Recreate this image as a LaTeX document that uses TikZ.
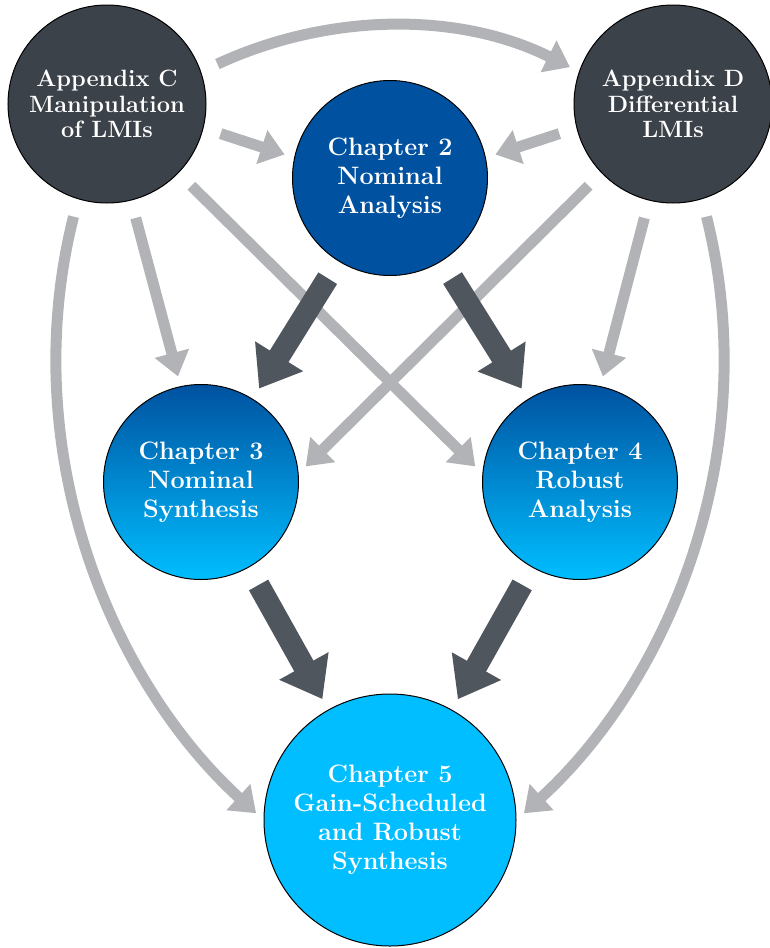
\documentclass[tikz,border=0pt]{standalone}
\usetikzlibrary{arrows.meta}
\definecolor{appgray}{RGB}{60,66,73}
\definecolor{blueA}{RGB}{0,82,160}
\definecolor{blueB}{RGB}{0,190,255}
\definecolor{lightarr}{RGB}{178,179,183}
\definecolor{darkarr}{RGB}{80,86,94}
\begin{document}
\begin{tikzpicture}[x=0.5pt,y=-0.5pt,
  appnode/.style={circle, draw=black, line width=0.5pt, fill=appgray, minimum size=99pt, inner sep=0pt, align=center, text=white, font=\fontsize{11.8}{12.6}\selectfont\bfseries},
  chapnode/.style={circle, draw=black, line width=0.5pt, minimum size=97.5pt, inner sep=0pt, align=center, text=white, font=\fontsize{12.6}{14.5}\selectfont\bfseries},
  lightarrow/.style={draw=lightarr, line width=5.5pt, -{Triangle[width=17pt,length=12pt]}, shorten <=9pt, shorten >=5pt},
  darkarrow/.style={draw=darkarr, line width=11pt, -{Triangle[width=27pt,length=19pt]}, shorten <=10pt, shorten >=6pt}
]
\useasboundingbox (0,0) rectangle (770,948);
\node[appnode] (appc) at (107,104) {Appendix C\\Manipulation\\of LMIs};
\node[appnode] (appd) at (673,104) {Appendix D\\Differential\\LMIs};
\node[chapnode, fill=blueA] (ch2) at (390,178) {Chapter 2\\Nominal\\Analysis};
\node[chapnode, top color=blueA, bottom color=blueB] (ch3) at (201,482) {Chapter 3\\Nominal\\Synthesis};
\node[chapnode, top color=blueA, bottom color=blueB] (ch4) at (580,482) {Chapter 4\\Robust\\Analysis};
\node[chapnode, fill=blueB, minimum size=126pt] (ch5) at (390,820) {Chapter 5\\Gain-Scheduled\\and Robust\\Synthesis};
% light arrows
\draw[lightarrow] (appc.19) .. controls (330,12) and (460,12) .. (appd.161);
\draw[lightarrow] (appc.-14) -- (ch2.168);
\draw[lightarrow] (appd.194) -- (ch2.12);
\draw[lightarrow] (appc.-76) -- (ch3.102);
\draw[lightarrow] (appd.256) -- (ch4.78);
\draw[lightarrow] (appc.-44) -- (ch4.175);
\draw[lightarrow] (appd.224) -- (ch3.5);
\draw[lightarrow] (appc.253) .. controls (15,450) and (110,680) .. (ch5.180);
\draw[lightarrow] (appd.287) .. controls (765,450) and (670,680) .. (ch5.0);
% dark arrows
\draw[darkarrow] (ch2) -- (ch3);
\draw[darkarrow] (ch2) -- (ch4);
\draw[darkarrow] (ch3) -- (ch5);
\draw[darkarrow] (ch4) -- (ch5);
\end{tikzpicture}
\end{document}
